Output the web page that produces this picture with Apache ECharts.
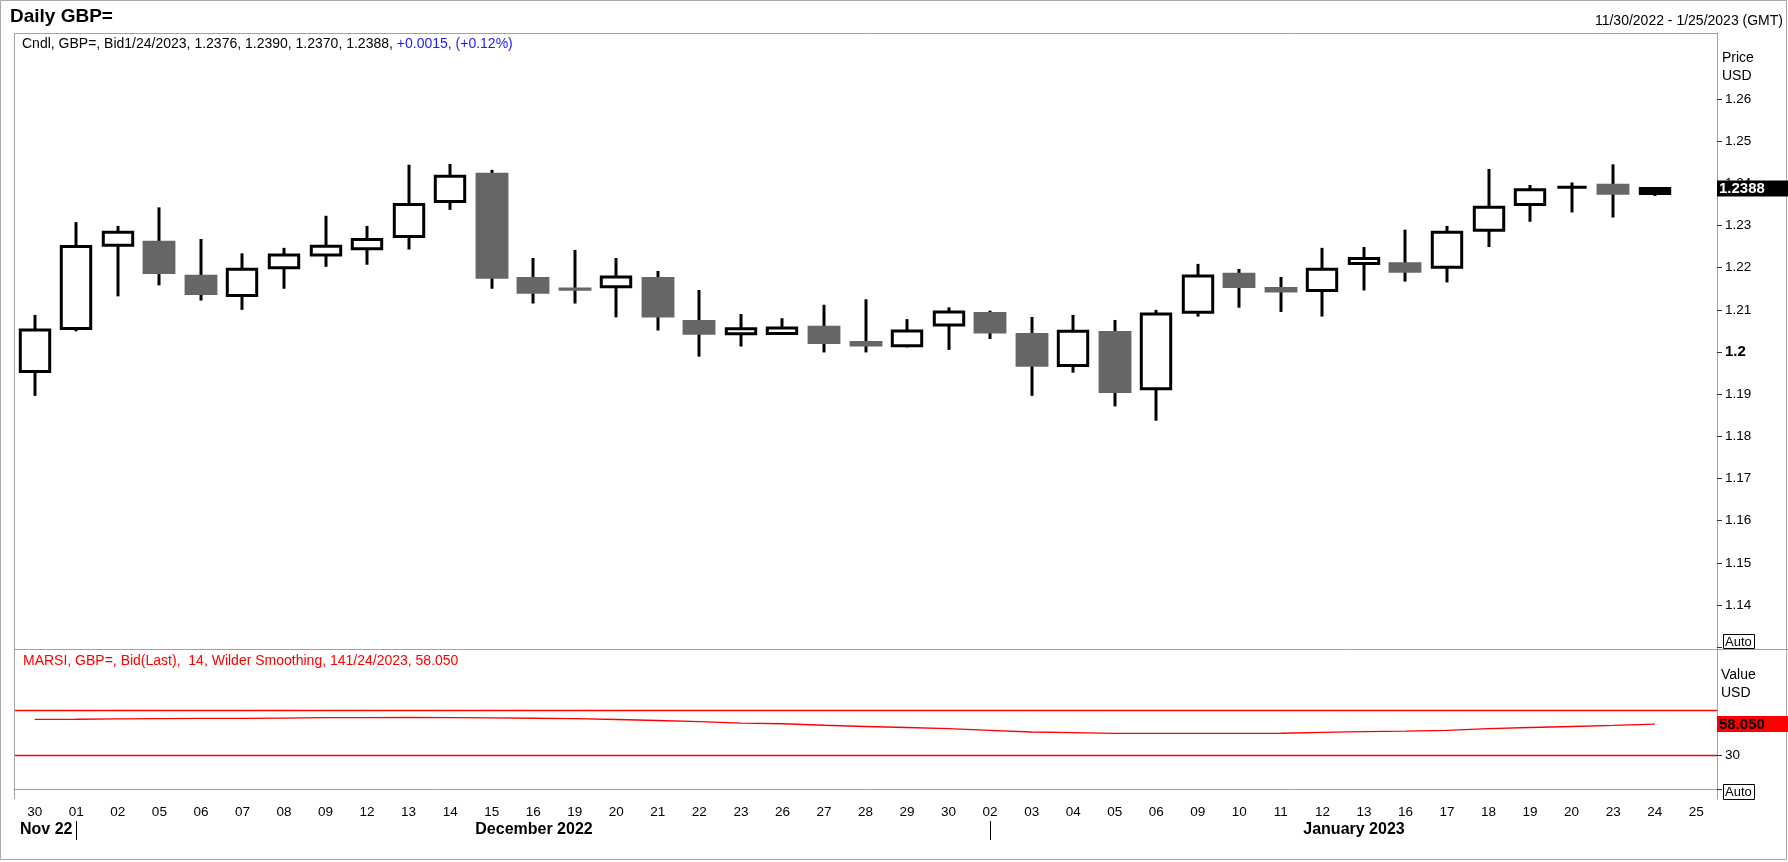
<!DOCTYPE html>
<html><head><meta charset="utf-8">
<script src="https://cdn.jsdelivr.net/npm/echarts@6/dist/echarts.min.js"></script>
<style>html,body{margin:0;padding:0;background:#fff}#c{width:1788px;height:862px}</style>
</head><body><div id="c"></div>
<script>
const categories = ['30','01','02','05','06','07','08','09','12','13','14','15','16','19','20','21','22','23','26','27','28','29','30','02','03','04','05','06','09','10','11','12','13','16','17','18','19','20','23','24','25'];
const openValues  = [1.1954,1.2056,1.2253,1.2264,1.2183,1.2134,1.2200,1.2230,1.2245,1.2274,1.2357,1.2425,1.2178,1.2153,1.2155,1.2178,1.2076,1.2043,1.2044,1.2062,1.2026,1.2015,1.2064,1.2095,1.2045,1.1968,1.2050,1.1913,1.2094,1.2188,1.2154,1.2146,1.2210,1.2213,1.2201,1.2289,1.2350,1.2391,1.2399,1.2376];
const highValues  = [1.2088,1.2308,1.2299,1.2343,1.2268,1.2234,1.2247,1.2323,1.2299,1.2444,1.2446,1.2432,1.2223,1.2242,1.2223,1.2192,1.2147,1.2090,1.2080,1.2112,1.2125,1.2078,1.2106,1.2098,1.2083,1.2088,1.2076,1.2100,1.2209,1.2197,1.2178,1.2247,1.2249,1.2290,1.2299,1.2434,1.2396,1.2402,1.2445,1.2390];
const lowValues   = [1.1896,1.2049,1.2132,1.2158,1.2122,1.2100,1.2150,1.2202,1.2207,1.2243,1.2337,1.2150,1.2115,1.2115,1.2082,1.2051,1.1989,1.2013,1.2043,1.1999,1.1999,1.2011,1.2005,1.2031,1.1896,1.1951,1.1871,1.1837,1.2084,1.2105,1.2095,1.2084,1.2146,1.2167,1.2165,1.2249,1.2309,1.2331,1.2319,1.2370];
const closeValues = [1.2052,1.2250,1.2284,1.2185,1.2135,1.2196,1.2230,1.2251,1.2267,1.2350,1.2417,1.2174,1.2138,1.2145,1.2178,1.2082,1.2041,1.2055,1.2057,1.2019,1.2013,1.2050,1.2095,1.2044,1.1965,1.2049,1.1903,1.2090,1.2180,1.2152,1.2141,1.2196,1.2222,1.2188,1.2284,1.2343,1.2385,1.2391,1.2373,1.2388];
const rsiValues   = [62.2,62.3,62.6,62.8,63.0,63.1,63.3,63.7,63.8,63.9,63.8,63.6,63.2,62.8,62.1,61.2,60.2,58.8,58.3,57.0,55.9,55.0,54.0,52.5,51.0,50.4,49.8,49.7,49.7,49.7,49.9,50.6,51.3,51.7,52.5,54.0,55.0,55.9,56.8,58.05];
const priceTicks  = [1.14,1.15,1.16,1.17,1.18,1.19,1.2,1.21,1.22,1.23,1.24,1.25,1.26];
const rsiTicks    = [30];
const rsiBands    = [70, 30];

const FONT = '"Liberation Sans", Arial, sans-serif';
const chart = echarts.init(document.getElementById('c'));
const lastIndex = openValues.length - 1;

function renderCandle(params, api) {
  const i = api.value(0);
  const o = api.value(1), c = api.value(2), l = api.value(3), h = api.value(4);
  const pO = api.coord([i, o]), pC = api.coord([i, c]), pL = api.coord([i, l]), pH = api.coord([i, h]);
  const band = api.size([1, 0])[0];
  const x = Math.round(pO[0]);
  const top = Math.min(pO[1], pC[1]), bot = Math.max(pO[1], pC[1]);
  const children = [{type:'line', shape:{x1:x, y1:pH[1], x2:x, y2:pL[1]}, style:{stroke:'#000', lineWidth:3}}];
  if (c >= o) {
    const w = band * 0.78 - 3;
    const fill = params.dataIndex === lastIndex ? '#000' : '#fff';
    children.push({type:'rect', shape:{x:x - w/2, y:top, width:w, height:bot - top}, style:{fill, stroke:'#000', lineWidth:3}});
  } else {
    const w = band * 0.79;
    const hh = Math.max(bot - top, 3);
    children.push({type:'rect', shape:{x:x - w/2, y:(top + bot)/2 - hh/2, width:w, height:hh}, style:{fill:'#666666'}});
  }
  return {type:'group', children};
}

const GL = 14, GW = 1703;
chart.setOption({
  animation: false,
  backgroundColor: '#fff',
  textStyle: {fontFamily: FONT},
  grid: [
    {left: GL, top: 33, width: GW, height: 616},
    {left: GL, top: 649, width: GW, height: 150}
  ],
  xAxis: [
    {type:'category', gridIndex:0, data:categories, boundaryGap:true, show:false},
    {type:'category', gridIndex:1, data:categories, boundaryGap:true,
     axisLine:{show:true, lineStyle:{color:'#a0a0a8', width:1}},
     axisTick:{show:false},
     axisLabel:{interval:0, color:'#000', fontSize:13.5, margin:6, fontFamily:FONT}}
  ],
  yAxis: [
    {type:'value', gridIndex:0, position:'right', min:1.12957, max:1.27565, scale:true,
     splitLine:{show:false},
     axisLine:{show:true, lineStyle:{color:'#a0a0b0'}},
     axisTick:{show:true, length:5, customValues:priceTicks, lineStyle:{color:'#333'}},
     axisLabel:{customValues:priceTicks, margin:8, color:'#000', fontSize:13.5, fontFamily:FONT,
       formatter: v => Math.abs(v - 1.2) < 1e-9 ? '{b|1.2}' : String(+(+v).toFixed(2)),
       rich:{b:{fontWeight:'bold', fontSize:15, color:'#000', fontFamily:FONT}}}},
    {type:'value', gridIndex:1, position:'right', min:-8.4, max:124.6,
     splitLine:{show:false},
     axisLine:{show:true, lineStyle:{color:'#a0a0b0'}},
     axisTick:{show:true, length:5, customValues:rsiTicks, lineStyle:{color:'#333'}},
     axisLabel:{customValues:rsiTicks, margin:8, color:'#000', fontSize:13.5, fontFamily:FONT}}
  ],
  series: [
    {type:'custom', name:'Cndl', xAxisIndex:0, yAxisIndex:0, renderItem:renderCandle,
     encode:{x:0, y:[1,2,3,4]},
     data: openValues.map((o, i) => [i, o, closeValues[i], lowValues[i], highValues[i]])},
    {type:'line', name:'MARSI', xAxisIndex:1, yAxisIndex:1, data:rsiValues, symbol:'none',
     lineStyle:{color:'#ff0000', width:1.3},
     markLine:{silent:true, symbol:'none', label:{show:false},
       lineStyle:{color:'#ff0000', type:'solid', width:1.3},
       data: rsiBands.map(v => ({yAxis:v}))}}
  ]
});

const lastClose = closeValues[lastIndex];
const lastRsi = rsiValues[rsiValues.length - 1];
const yLast = chart.convertToPixel({yAxisIndex:0}, lastClose);
const yRsi = chart.convertToPixel({yAxisIndex:1}, lastRsi);
const xNov = chart.convertToPixel({xAxisIndex:1}, 1);
const xJan = chart.convertToPixel({xAxisIndex:1}, 23);

const gray = '#a0a0a8';
function hline(x1, x2, y, color) { return {type:'line', silent:true, z:50, shape:{x1, y1:y, x2, y2:y}, style:{stroke:color || gray, lineWidth:1}}; }
function vline(x, y1, y2, color) { return {type:'line', silent:true, z:50, shape:{x1:x, y1, x2:x, y2}, style:{stroke:color || gray, lineWidth:1}}; }
function txt(x, y, text, opt, z) { return {type:'text', silent:true, z: z || 60, x, y, style:Object.assign({text, fill:'#000', font:'14px ' + FONT, textVerticalAlign:'middle', textAlign:'left'}, opt || {})}; }

chart.setOption({
  graphic: [
    {type:'rect', silent:true, z:40, shape:{x:0.5, y:0.5, width:1786, height:859}, style:{fill:'none', stroke:'#a8a8a8', lineWidth:1}},
    hline(GL, GL + GW, 33.5),
    vline(GL + 0.5, 33, 799),
    hline(GL, 1788, 649.5),
    txt(10, 17, 'Daily GBP=', {font:'bold 19px ' + FONT}),
    txt(1783, 21, '11/30/2022 - 1/25/2023 (GMT)', {textAlign:'right'}),
    {type:'text', silent:true, z:60, x:22, y:44, style:{
      text:'{k|Cndl, GBP=, Bid1/24/2023, 1.2376, 1.2390, 1.2370, 1.2388, }{b|+0.0015, (+0.12%)}',
      textVerticalAlign:'middle',
      rich:{k:{fill:'#000', fontSize:14, fontFamily:FONT}, b:{fill:'#1a1aff', fontSize:14, fontFamily:FONT}}}},
    txt(23, 661, 'MARSI, GBP=, Bid(Last),  14, Wilder Smoothing, 141/24/2023, 58.050', {fill:'#ff0000'}),
    txt(1722, 58, 'Price'),
    txt(1722, 76, 'USD'),
    txt(1721, 675, 'Value'),
    txt(1721, 693, 'USD'),
    {type:'rect', silent:true, z:55, shape:{x:1723.5, y:634.5, width:31, height:14}, style:{fill:'#fff', stroke:'#000', lineWidth:1}},
    txt(1725, 642, 'Auto', {font:'13px ' + FONT}),
    hline(1717, 1722, 647.5, '#333'),
    {type:'rect', silent:true, z:55, shape:{x:1723.5, y:784.5, width:31, height:15}, style:{fill:'#fff', stroke:'#000', lineWidth:1}},
    txt(1725, 792.5, 'Auto', {font:'13px ' + FONT}),
    hline(1717, 1722, 789.5, '#333'),
    {type:'rect', silent:true, z:70, shape:{x:1717, y:yLast - 8, width:71, height:16}, style:{fill:'#000'}},
    txt(1719, yLast + 0.5, lastClose.toFixed(4), {fill:'#fff', font:'bold 15px ' + FONT}, 80),
    {type:'rect', silent:true, z:70, shape:{x:1717, y:yRsi - 8, width:71, height:16}, style:{fill:'#ff0000'}},
    txt(1719, yRsi + 0.5, lastRsi.toFixed(3), {fill:'#000', font:'bold 15px ' + FONT}, 80),
    txt(20, 830, 'Nov 22', {font:'bold 16px ' + FONT}),
    txt(534, 830, 'December 2022', {font:'bold 16px ' + FONT, textAlign:'center'}),
    txt(1354, 830, 'January 2023', {font:'bold 16px ' + FONT, textAlign:'center'}),
    vline(Math.round(xNov) + 0.5, 821, 840, '#000'),
    vline(Math.round(xJan) + 0.5, 821, 840, '#000')
  ]
});
</script></body></html>
